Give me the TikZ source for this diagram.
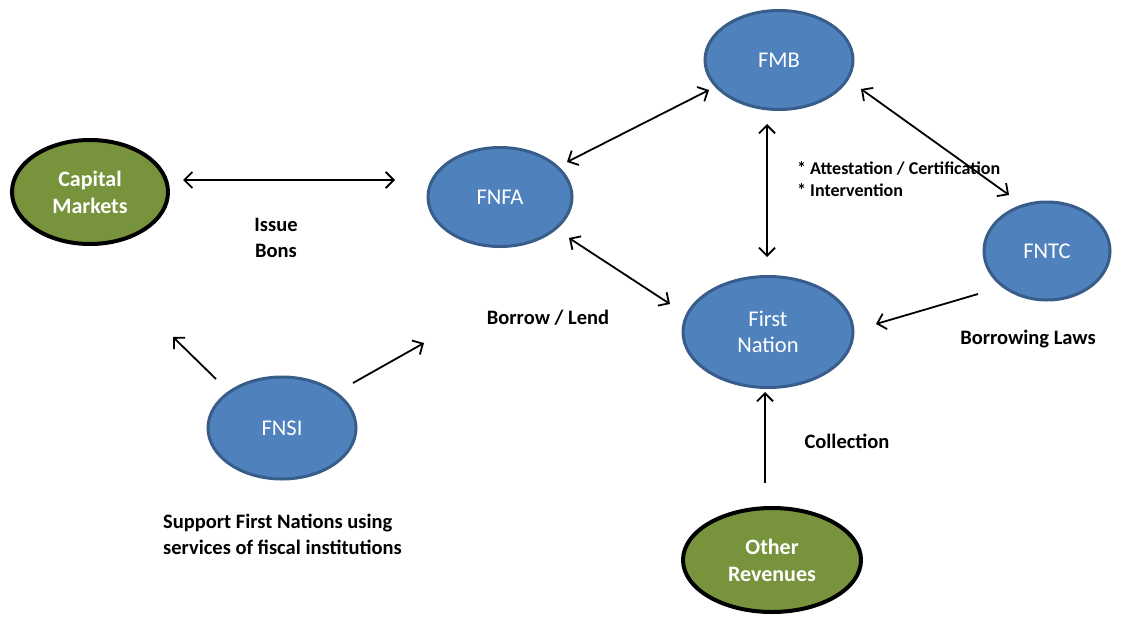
\documentclass[tikz,border=0pt]{standalone}
\usepackage{fontspec}
\setmainfont{Carlito}
\usetikzlibrary{arrows.meta,shapes.geometric}
\definecolor{nodeblue}{HTML}{4F81BD}
\definecolor{blueedge}{HTML}{385D8A}
\definecolor{olive}{HTML}{77933C}
\tikzset{
  bluenode/.style={ellipse, draw=blueedge, line width=3pt, fill=nodeblue, text=white, font=\fontsize{22.5}{26.5}\selectfont, align=center, inner sep=0pt},
  greennode/.style={ellipse, draw=black, line width=4pt, fill=olive, text=white, font=\fontsize{22}{27}\selectfont\bfseries, align=center, inner sep=0pt},
  conn/.style={line width=1.8pt, draw=black},
  twoway/.style={conn, {Straight Barb[length=8pt,width=16pt,line width=1.8pt]}-{Straight Barb[length=8pt,width=16pt,line width=1.8pt]}},
  oneway/.style={conn, -{Straight Barb[length=8pt,width=16pt,line width=1.8pt]}},
  lbl/.style={font=\fontsize{20.5}{26}\selectfont\bfseries, align=center, inner sep=0pt},
  lbll/.style={font=\fontsize{18}{22}\selectfont\bfseries, align=left, inner sep=0pt, anchor=west},
}
\begin{document}
\begin{tikzpicture}[x=1pt,y=-1pt]
\useasboundingbox (0,0) rectangle (1124,618);
% nodes
\node[greennode, minimum width=156pt, minimum height=104pt] (cm) at (90,192) {Capital\\Markets};
\node[bluenode, minimum width=144pt, minimum height=99pt] (fnfa) at (500,197) {FNFA};
\node[bluenode, minimum width=148pt, minimum height=99pt] (fmb) at (779,60) {FMB};
\node[bluenode, minimum width=126pt, minimum height=98pt] (fntc) at (1047,251) {FNTC};
\node[bluenode, minimum width=170pt, minimum height=111pt] (fn) at (768,332) {First\\Nation};
\node[bluenode, minimum width=148pt, minimum height=102pt] (fnsi) at (282,428) {FNSI};
\node[greennode, minimum width=178pt, minimum height=104pt] (or) at (772,560) {Other\\Revenues};
% arrow end points
\coordinate (a1) at (183,180); \coordinate (a2) at (395,180);
\coordinate (b1) at (567,162); \coordinate (b2) at (709,90);
\coordinate (c1) at (569,238); \coordinate (c2) at (670,304);
\coordinate (d1) at (767,124); \coordinate (d2) at (767,257);
\coordinate (e1) at (861,89); \coordinate (e2) at (1009,195);
\coordinate (f1) at (978,294); \coordinate (f2) at (876,324);
\coordinate (g1) at (765,483); \coordinate (g2) at (765,392);
\coordinate (h1) at (216,379); \coordinate (h2) at (173,337);
\coordinate (i1) at (353,383); \coordinate (i2) at (424,343);
\draw[twoway] (a1) -- (a2);
\draw[twoway] (b1) -- (b2);
\draw[twoway] (c1) -- (c2);
\draw[twoway] (d1) -- (d2);
\draw[twoway] (e1) -- (e2);
\draw[oneway] (f1) -- (f2);
\draw[oneway] (g1) -- (g2);
\draw[oneway] (h1) -- (h2);
\draw[oneway] (i1) -- (i2);
% labels
\node[lbl] (l1) at (276,238) {Issue\\Bons};
\node[lbl] (l2) at (548,318) {Borrow / Lend};
\node[lbll] (l3) at (797,179) {* Attestation / Certification\\* Intervention};
\node[lbl] (l4) at (1028,339) {Borrowing Laws};
\node[lbl] (l5) at (847,441) {Collection};
\node[lbl, align=left, anchor=west] (l6) at (163,534) {Support First Nations using\\services of fiscal institutions};
\end{tikzpicture}
\end{document}
